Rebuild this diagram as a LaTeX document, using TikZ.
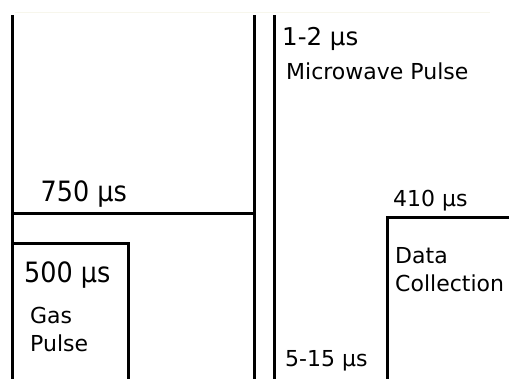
\documentclass[tikz,border=0pt]{standalone}
\usepackage{fontspec}
\setmainfont{DejaVu Sans}
\newfontfamily\narrowfont[FakeStretch=0.91]{DejaVu Sans}
\usepackage{tikz}
\usetikzlibrary{positioning}

\begin{document}
\begin{tikzpicture}[
    x=1bp, y=-1bp,
    edge/.style={line width=3bp},
    lbl/.style={anchor=base west, inner sep=0pt},
    big/.style={lbl, font=\narrowfont\fontsize{28bp}{28bp}\selectfont},
    mid/.style={lbl, font=\fontsize{24.5bp}{28bp}\selectfont},
    small/.style={lbl, font=\fontsize{22bp}{28bp}\selectfont}
  ]
  \useasboundingbox (0,0) rectangle (509,378);

  % faint top rule
  \draw[line width=1.5bp, color={rgb,255:red,247;green,246;blue,236}] (15,12.5) -- (490,12.5);

  % time lines
  \coordinate (gasT) at (12,15);
  \coordinate (gasE) at (12,380);
  \coordinate (mwLT) at (254,15);
  \coordinate (mwLB) at (254,380);
  \coordinate (mwRT) at (274,15);
  \coordinate (mwRB) at (274,380);
  \draw[edge] (gasT) -- (gasE);
  \draw[edge] (mwLT) -- (mwLB);
  \draw[edge] (mwRT) -- (mwRB);
  \draw[edge] (12,213.5) -- (254,213.5);

  % gas pulse box
  \draw[edge] (12,243) -- (128,243) -- (128,380);
  % data collection box
  \draw[edge] (387,380) -- (387,217) -- (512,217);

  % labels
  \node[big]   (delay)  at (40.5,201.5) {750 μs};
  \node[big]   (gas)    at (24,282)     {500 μs};
  \node[small] (gasA)   at (30,323)     {Gas};
  \node[small] (gasB)   at (30,351)     {Pulse};
  \node[mid]   (mw)     at (282,45.5)   {1-2 μs};
  \node[small] (mwName) at (286,79.5)   {Microwave Pulse};
  \node[small] (data)   at (393,206.5)  {410 μs};
  \node[small] (dataA)  at (395,263)    {Data};
  \node[small] (dataB)  at (395,291)    {Collection};
  \node[small] (wait)   at (285,366)    {5-15 μs};
\end{tikzpicture}
\end{document}
